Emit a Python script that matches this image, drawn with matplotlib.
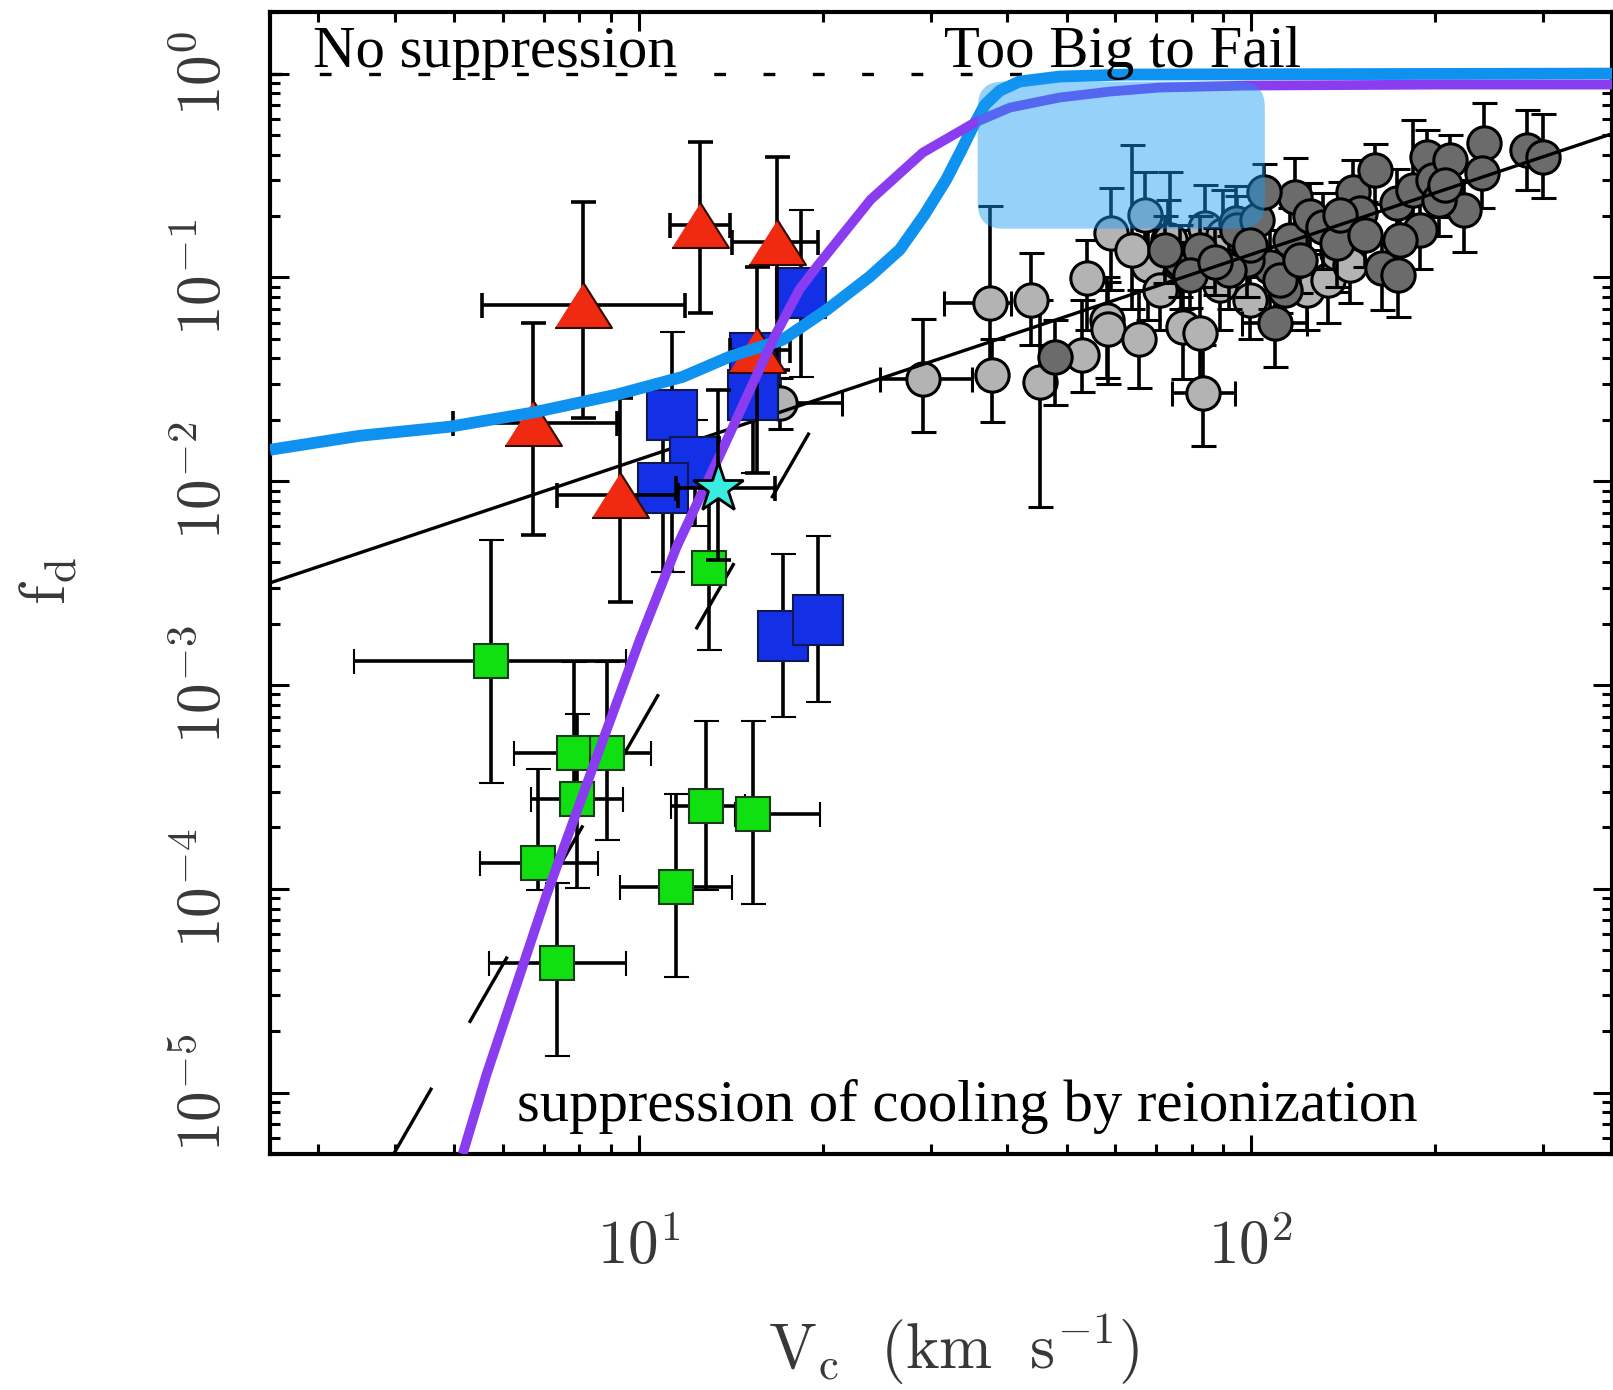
import numpy as np
import matplotlib
matplotlib.use("Agg")
from matplotlib import pyplot as plt
from matplotlib.patches import FancyBboxPatch
from matplotlib.ticker import LogLocator, NullFormatter

plt.rcParams['mathtext.fontset'] = 'cm'
plt.rcParams['lines.scale_dashes'] = False

# ---- data ----
# model curves
blue_v = [2.5, 3.5, 4.91, 6.71, 9.21, 11.8, 14.08, 17.18, 20.3, 23.85, 26.7, 29.3, 31.8, 33.7, 35.1, 36.8,
          38.9, 41.9, 48.7, 62.7, 389]
blue_f = [0.01426, 0.0167, 0.0185, 0.0217, 0.0266, 0.0325, 0.0408, 0.0494, 0.0694, 0.1008, 0.1368, 0.203,
          0.3018, 0.4236, 0.543, 0.704, 0.825, 0.914, 0.967, 0.989, 1.0]
purple_v = [5.16, 5.64, 7.07, 8.16, 10.04, 11.54, 13.7, 16.67, 18.3, 19.54, 23.93, 29.1, 35.4, 40.4, 48.7,
            58.8, 71.0, 98.1, 203.6, 389]
purple_f = [5.0e-6, 1.22e-5, 9.3e-5, 3.05e-4, 1.66e-3, 4.77e-3, 0.01426, 0.0512, 0.087, 0.1128, 0.2406,
            0.409, 0.575, 0.681, 0.763, 0.816, 0.854, 0.873, 0.883, 0.883]
line_v = [2.5, 389]
line_f = [0.00317, 0.507]
dash_v = [3.98, 19.0]
dash_f = [5.0e-6, 0.0173]

# red triangles
tri_v = [8.10, 12.58, 16.81, 6.71, 9.31, 15.6]
tri_f = [0.0734, 0.181, 0.150, 0.0193, 0.00857, 0.0442]
tri_vlo = [5.54, 11.24, 14.19, 4.97, 7.35, 14.1]
tri_vhi = [11.9, 14.08, 19.61, 9.21, 11.6, 17.7]
tri_flo = [0.0205, 0.067, 0.035, 0.00546, 0.00256, 0.011]
tri_fhi = [0.235, 0.464, 0.39, 0.060, 0.0257, 0.113]

# blue squares
bsq_v = [18.45, 15.47, 15.35, 11.32, 12.35, 10.94, 17.19, 19.61]
bsq_f = [0.084, 0.0403, 0.0266, 0.0212, 0.01245, 0.00928, 0.00174, 0.00209]
bsq_flo = [0.0326, 0.030, 0.011, 0.0036, 0.006, 0.0036, 0.000693, 0.00083]
bsq_fhi = [0.215, 0.050, 0.040, 0.054, 0.020, 0.020, 0.0044, 0.0054]

# green squares
gsq_v = [5.73, 13.02, 7.83, 8.87, 7.92, 6.86, 7.35, 11.5, 12.9, 15.4]
gsq_f = [0.00131, 0.00376, 0.000464, 0.000464, 0.000276, 0.000134, 4.32e-5, 0.000102, 0.000255, 0.000233]
gsq_vlo = [3.43, 12.3, 6.25, 8.3, 6.68, 5.5, 5.69, 9.31, 11.3, 14.35]
gsq_vhi = [9.52, 13.8, 8.63, 10.46, 9.42, 8.57, 9.52, 14.2, 14.9, 19.8]
gsq_flo = [0.00033, 0.00149, 0.00028, 0.000174, 0.000101, 9.86e-5, 1.52e-5, 3.69e-5, 9.86e-5, 8.4e-5]
gsq_fhi = [0.00515, 0.0098, 0.0013, 0.0013, 0.00072, 0.000387, 0.000107, 0.000292, 0.000667, 0.000667]

# cyan star
star_v = [13.46]
star_f = [0.00928]
star_vlo = [11.5]
star_vhi = [16.7]
star_flo = [0.0041]
star_fhi = [0.028]

# grey circles: light ones
lc_v = [29.1, 37.5, 37.8, 43.7, 45.2, 53.0, 54.0, 58.2, 58.4, 65.6, 67.9, 73.2, 77.4, 82.5, 83.5, 89.0,
        77.0, 17.0, 123.5, 133.7, 59.0, 63.9, 67.1, 73.7, 84.1, 89.9, 138.2, 71.0, 99.5, 145.0]
lc_f = [0.0318, 0.0751, 0.0333, 0.0777, 0.0308, 0.0418, 0.0997, 0.062, 0.056, 0.050, 0.1154, 0.1531, 0.0573,
        0.0535, 0.0272, 0.092, 0.1128, 0.0243, 0.0871, 0.0975, 0.1657, 0.1368, 0.203, 0.153, 0.1754, 0.162,
        0.132, 0.087, 0.0777, 0.115]
lc_flo = [0.0175, 0.034, 0.0196, 0.0467, 0.00748, 0.0275, 0.0554, 0.032, 0.030, 0.0287, 0.062, 0.0871, 0.0316,
          0.028, 0.0149, 0.0554, 0.07, 0.018, 0.0554, 0.06, 0.087, 0.07, 0.11, 0.087, 0.10, 0.09,
          0.085, 0.055, 0.05, 0.075]
lc_fhi = [0.0627, 0.225, 0.050, 0.132, 0.0777, 0.0777, 0.1531, 0.10, 0.095, 0.0871, 0.1714, 0.24, 0.109,
          0.109, 0.0467, 0.153, 0.17, 0.032, 0.137, 0.15, 0.2756, 0.448, 0.330, 0.33, 0.285, 0.269,
          0.2, 0.13, 0.12, 0.17]
lc_vlo = [24.8, 31.5, 37.8, 43.7, 45.2, 53.0, 54.0, 58.2, 58.4, 65.6, 67.9, 73.2, 77.4, 82.5, 74.3, 89.0,
          77.0, 14.6, 123.5, 133.7, 59.0, 63.9, 67.1, 73.7, 84.1, 89.9, 138.2, 71.0, 99.5, 145.0]
lc_vhi = [35.0, 40.5, 37.8, 43.7, 45.2, 53.0, 54.0, 58.2, 58.4, 65.6, 67.9, 73.2, 77.4, 82.5, 94.2, 89.0,
          77.0, 21.5, 123.5, 133.7, 59.0, 63.9, 67.1, 73.7, 84.1, 89.9, 138.2, 71.0, 99.5, 145.0]

# grey circles: dark ones
dc_v = [47.8, 94.5, 109.4, 94.9, 102.3, 107.4, 115.8, 118.0, 124.8, 131.2, 138.2, 146.8, 150.7, 159.4, 163.7,
        173.8, 173.2, 183.9, 194.0, 198.2, 211.3, 222.9, 240.3, 238.5, 282.6, 300.0, 105.0, 98.5, 76.6, 82.5,
        92.2, 113.8, 188.8, 203.0, 72.4, 79.5, 87.3, 99.6, 111.4, 120.2, 139.8, 153.5, 175.2, 207.3]
dc_f = [0.0408, 0.1855, 0.060, 0.1714, 0.192, 0.1128, 0.1531, 0.249, 0.199, 0.1774, 0.148, 0.261, 0.208,
        0.338, 0.1116, 0.1031, 0.233, 0.269, 0.391, 0.302, 0.378, 0.215, 0.458, 0.327, 0.424, 0.391, 0.261,
        0.122, 0.122, 0.1368, 0.109, 0.0871, 0.1714, 0.24, 0.1368, 0.1031, 0.1194, 0.1447, 0.0975, 0.122,
        0.203, 0.162, 0.1531, 0.285]
dc_flo = [0.0237, 0.10, 0.0365, 0.11, 0.12, 0.07, 0.10, 0.16, 0.13, 0.11, 0.09, 0.17, 0.14, 0.23, 0.0694,
          0.0636, 0.15, 0.18, 0.28, 0.2, 0.25, 0.1337, 0.3, 0.22, 0.269, 0.246, 0.17, 0.08, 0.08, 0.09,
          0.07, 0.055, 0.11, 0.16, 0.094, 0.071, 0.082, 0.10, 0.067, 0.084, 0.14, 0.112, 0.105, 0.197]
dc_fhi = [0.062, 0.282, 0.092, 0.25, 0.28, 0.17, 0.22, 0.387, 0.29, 0.26, 0.22, 0.378, 0.3, 0.45, 0.16,
          0.15, 0.34, 0.594, 0.53, 0.42, 0.5, 0.3, 0.72, 0.46, 0.666, 0.63, 0.36, 0.18, 0.18, 0.2,
          0.16, 0.13, 0.25, 0.34, 0.20, 0.15, 0.175, 0.21, 0.142, 0.178, 0.295, 0.235, 0.222, 0.41]
dc_vlo = [47.8, 94.5, 96.7, 94.9, 102.3, 107.4, 115.8, 118.0, 124.8, 131.2, 138.2, 146.8, 150.7, 159.4, 163.7,
          173.8, 173.2, 183.9, 194.0, 198.2, 211.3, 222.9, 240.3, 238.5, 282.6, 300.0, 105.0, 98.5, 76.6, 82.5,
          92.2, 113.8, 188.8, 203.0, 72.4, 79.5, 87.3, 99.6, 111.4, 120.2, 139.8, 153.5, 175.2, 207.3]
dc_vhi = [47.8, 94.5, 123.5, 94.9, 102.3, 107.4, 115.8, 118.0, 124.8, 131.2, 138.2, 146.8, 150.7, 159.4, 163.7,
          173.8, 173.2, 183.9, 194.0, 198.2, 211.3, 222.9, 240.3, 238.5, 282.6, 300.0, 105.0, 98.5, 76.6, 82.5,
          92.2, 113.8, 188.8, 203.0, 72.4, 79.5, 87.3, 99.6, 111.4, 120.2, 139.8, 153.5, 175.2, 207.3]

# "Too Big to Fail" region
box_v = [35.8, 105.4]
box_f = [0.1734, 0.914]

xticks = [10, 100]
xticklabels = [r'$10^{1}$', r'$10^{2}$']
yticks = [1e-5, 1e-4, 1e-3, 1e-2, 1e-1, 1]
yticklabels = [r'$10^{-5}$', r'$10^{-4}$', r'$10^{-3}$', r'$10^{-2}$', r'$10^{-1}$', r'$10^{0}$']


def err(v, lo, hi):
    v = np.asarray(v)
    return [v - np.asarray(lo), np.asarray(hi) - v]


fig = plt.figure(figsize=(16.13, 13.9), dpi=100)
ax = fig.add_axes([0.1674, 0.1698, 0.8320, 0.8214])
ax.set_xscale('log')
ax.set_yscale('log')
ax.set_xlim(2.5, 389)
ax.set_ylim(5e-6, 2.0)

ax.axhline(1.0, color='black', lw=2.4, dashes=(8.5, 27), zorder=1)
ax.plot(dash_v, dash_f, color='black', lw=2.4, dashes=(55, 54), zorder=1)

eb = dict(ecolor='black', elinewidth=2.6, capsize=9, capthick=2.6, linestyle='none')
ax.errorbar(lc_v, lc_f, xerr=err(lc_v, lc_vlo, lc_vhi), yerr=err(lc_f, lc_flo, lc_fhi), fmt='o',
            ms=24, mfc='#b3b3b3', mec='black', mew=2.2, zorder=2, **eb)
ax.errorbar(dc_v, dc_f, xerr=err(dc_v, dc_vlo, dc_vhi), yerr=err(dc_f, dc_flo, dc_fhi), fmt='o',
            ms=24, mfc='#6b6b6b', mec='black', mew=2.2, zorder=2.1, **eb)

ax.plot(line_v, line_f, color='black', lw=2.4, zorder=2.5)

ax.errorbar(gsq_v, gsq_f, xerr=err(gsq_v, gsq_vlo, gsq_vhi), yerr=err(gsq_f, gsq_flo, gsq_fhi), fmt='s',
            ms=25, mfc='#10e010', mec='#1a3a1a', mew=1.5, zorder=3, **eb)
ax.errorbar(bsq_v, bsq_f, yerr=err(bsq_f, bsq_flo, bsq_fhi), fmt='s',
            ms=36, mfc='#1430e6', mec='#101850', mew=1.5, zorder=3.1, **eb)
tri_marker = [(-1, -0.79), (1, -0.79), (0, 0.79)]
ax.errorbar(tri_v, tri_f, xerr=err(tri_v, tri_vlo, tri_vhi), yerr=err(tri_f, tri_flo, tri_fhi),
            fmt='none', zorder=3.2, **eb)
ax.plot(tri_v, tri_f, linestyle='none', marker=tri_marker, ms=41, mfc='#f02a10', mec='#300a00', mew=1.5,
        zorder=3.3)

ax.plot(blue_v, blue_f, color='#0f91f0', lw=8.5, solid_capstyle='butt', solid_joinstyle='round', zorder=4)
ax.plot(purple_v, purple_f, color='#8a3cf0', lw=7, solid_capstyle='butt', solid_joinstyle='round', zorder=4.1)

ax.errorbar(star_v, star_f, xerr=err(star_v, star_vlo, star_vhi), yerr=err(star_f, star_flo, star_fhi),
            fmt='none', zorder=4.2, **eb)
ax.plot(star_v, star_f, linestyle='none', marker='*', ms=38, mfc='#38ecdf', mec='black', mew=2, zorder=4.3)

# translucent rounded box in axes fraction
p0 = ax.transAxes.inverted().transform(ax.transData.transform((box_v[0], box_f[0])))
p1 = ax.transAxes.inverted().transform(ax.transData.transform((box_v[1], box_f[1])))
bbox_w = ax.get_position().width * 1613
bbox_h = ax.get_position().height * 1390
box = FancyBboxPatch((p0[0], p0[1]), p1[0] - p0[0], p1[1] - p0[1],
                     boxstyle='round,pad=0,rounding_size=0.019', mutation_aspect=bbox_w / bbox_h,
                     transform=ax.transAxes, facecolor='#169bf4', edgecolor='none', alpha=0.45, zorder=10)
ax.add_patch(box)

serif = dict(family='Liberation Serif', fontsize=42.3, color='black', zorder=12, va='baseline', ha='left')
ax.text(2.94, 1.08, 'No suppression', **serif)
ax.text(31.5, 1.08, 'Too Big to Fail', **serif)
ax.text(6.34, 7.24e-6, 'suppression of cooling by reionization', **serif)

# axes styling
for s in ax.spines.values():
    s.set_linewidth(3)
ax.set_xticks(xticks)
ax.set_xticklabels(xticklabels)
ax.set_yticks(yticks)
ax.set_yticklabels(yticklabels, rotation=90, va='center')
ax.xaxis.set_minor_locator(LogLocator(base=10, subs=np.arange(2, 10), numticks=100))
ax.yaxis.set_minor_locator(LogLocator(base=10, subs=np.arange(2, 10), numticks=100))
ax.xaxis.set_minor_formatter(NullFormatter())
ax.yaxis.set_minor_formatter(NullFormatter())
ax.tick_params(which='both', direction='in', top=True, right=True, colors='black', labelcolor='#383838')
ax.tick_params(which='major', length=14, width=2.2, labelsize=44)
ax.tick_params(which='minor', length=7, width=2.2)
ax.tick_params(axis='x', which='major', pad=46)
ax.tick_params(axis='y', which='major', pad=26)

fig.text(0.591, 0.029, r'$\mathrm{V_c\ \ (km\ \ s^{-1})}$', fontsize=46, color='#383838', ha='center', va='center')
fig.text(0.03, 0.582, r'$\mathrm{f_d}$', fontsize=46, color='#383838', ha='center', va='center', rotation=90)

fig.savefig('out.png', dpi=100)
